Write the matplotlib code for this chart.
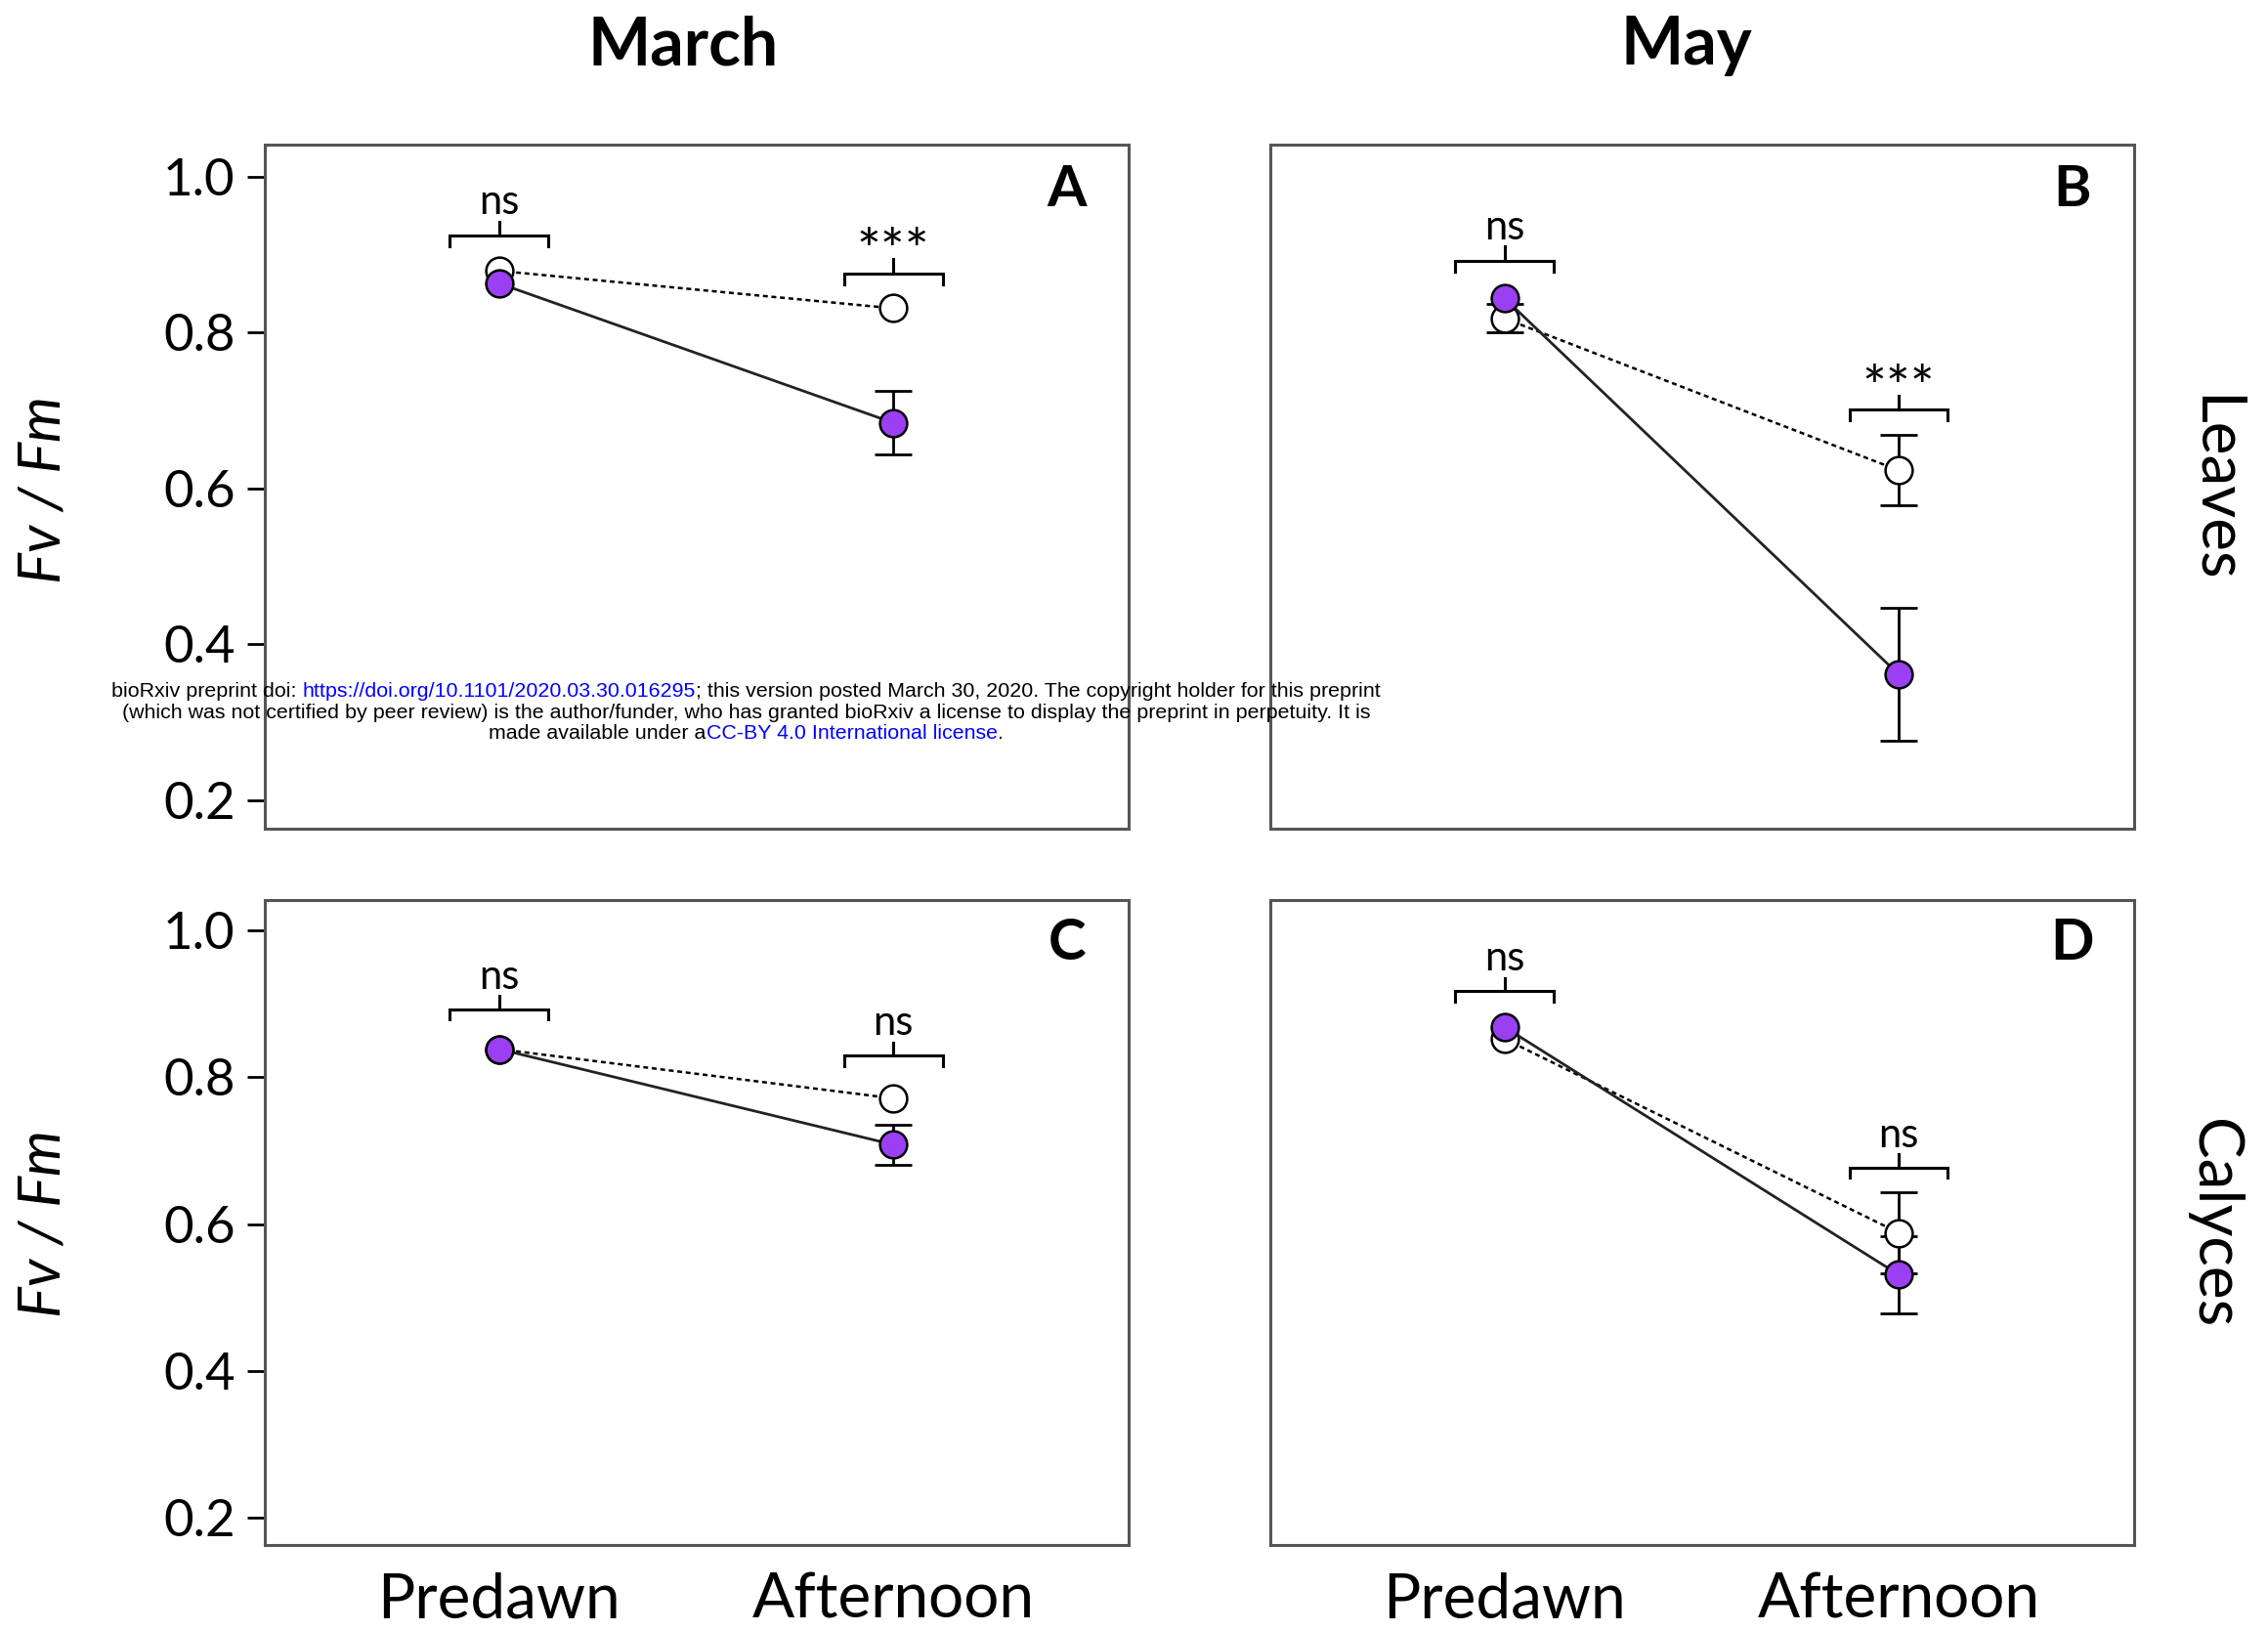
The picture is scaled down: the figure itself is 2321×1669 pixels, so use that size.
import matplotlib
matplotlib.use("Agg")
import matplotlib.pyplot as plt

# Fv/Fm, predawn vs afternoon, control (open) and treated (purple)
times = ["Predawn", "Afternoon"]
panels = ["A", "B", "C", "D"]

open_mean = {"A": [0.879, 0.831], "B": [0.818, 0.623], "C": [0.838, 0.771], "D": [0.852, 0.588]}
open_err = {"A": [0.0, 0.0], "B": [0.018, 0.045], "C": [0.0, 0.0], "D": [0.0, 0.055]}
purple_mean = {"A": [0.863, 0.684], "B": [0.844, 0.361], "C": [0.838, 0.708], "D": [0.868, 0.531]}
purple_err = {"A": [0.0, 0.041], "B": [0.0, 0.085], "C": [0.0, 0.027], "D": [0.0, 0.053]}

# significance brackets: (bracket height, label) for predawn / afternoon
brackets = {
    "A": [(0.924, "ns"), (0.876, "***")],
    "B": [(0.892, "ns"), (0.701, "***")],
    "C": [(0.892, "ns"), (0.829, "ns")],
    "D": [(0.917, "ns"), (0.677, "ns")],
}

months = ["March", "May"]
tissues = ["Leaves", "Calyces"]
yticks = [0.2, 0.4, 0.6, 0.8, 1.0]

purple = "#9b3ff2"
FONT = ["Lato", "DejaVu Sans"]
plt.rcParams["font.family"] = FONT

fig = plt.figure(figsize=(23.21, 16.69), dpi=100)

boxes = {
    "A": [0.1168, 0.4919, 0.381, 0.4194],
    "B": [0.5601, 0.4919, 0.381, 0.4194],
    "C": [0.1168, 0.0527, 0.381, 0.3955],
    "D": [0.5601, 0.0527, 0.381, 0.3955],
}

x = [0, 1]
for p in panels:
    ax = fig.add_axes(boxes[p])
    # error bars first so the markers cover them
    for m, e in ((open_mean[p], open_err[p]), (purple_mean[p], purple_err[p])):
        xs = [xi for xi, ei in zip(x, e) if ei > 0]
        ms_ = [mi for mi, ei in zip(m, e) if ei > 0]
        es = [ei for ei in e if ei > 0]
        if xs:
            ax.errorbar(xs, ms_, yerr=es, fmt="none", ecolor="black", elinewidth=2,
                        capsize=14, capthick=2, zorder=2)
    ax.plot(x, open_mean[p], color="black", ls=(0, (2, 1.5)), lw=1.8,
            marker="o", ms=20, mfc="white", mec="black", mew=1.8, zorder=3)
    ax.plot(x, purple_mean[p], color="#222222", ls="-", lw=2,
            marker="o", ms=20, mfc=purple, mec="black", mew=1.8, zorder=4)

    for xi, (yb, lab) in zip(x, brackets[p]):
        hw = 0.125
        ax.plot([xi - hw, xi - hw, xi + hw, xi + hw], [yb - 0.014, yb, yb, yb - 0.014],
                color="black", lw=2.2, solid_joinstyle="miter")
        ax.plot([xi, xi], [yb, yb + 0.018], color="black", lw=2.2)
        if lab == "ns":
            ax.text(xi, yb + 0.028, lab, ha="center", va="baseline", fontsize=30)
        else:
            ax.text(xi, yb + 0.025, lab, ha="center", va="center", fontsize=42)

    ax.text(0.928, 0.933, p, transform=ax.transAxes, ha="center", va="center",
            fontsize=42, fontweight="bold")

    ax.set_xlim(-0.594, 1.598)
    ax.set_ylim(0.163, 1.041)
    for s in ax.spines.values():
        s.set_color("#555555")
        s.set_linewidth(2.2)

    if p in ("A", "C"):
        ax.set_yticks(yticks)
        ax.set_yticklabels([f"{v:.1f}" for v in yticks])
        ax.tick_params(axis="y", length=13, width=2, pad=9, labelsize=38, color="black")
    else:
        ax.set_yticks([])
    if p in ("C", "D"):
        ax.set_xticks(x)
        ax.set_xticklabels(times)
        ax.tick_params(axis="x", length=0, pad=20, labelsize=46)
    else:
        ax.set_xticks([])

fig.text(0.301, 0.972, months[0], ha="center", va="center", fontsize=49, fontweight="bold")
fig.text(0.7436, 0.972, months[1], ha="center", va="center", fontsize=49, fontweight="bold")
fig.text(0.976, 0.700, tissues[0], ha="center", va="center", rotation=-90, fontsize=46)
fig.text(0.976, 0.250, tissues[1], ha="center", va="center", rotation=-90, fontsize=46)
for yc in (0.700, 0.250):
    fig.text(0.019, yc, "Fv / Fm", ha="center", va="center", rotation=90,
             fontsize=43, fontstyle="italic")

# bioRxiv watermark, pieces coloured separately
blue = "#0000ff"
wm_lines = [
    [("bioRxiv preprint doi: ", "black"), ("https://doi.org/10.1101/2020.03.30.016295", blue),
     ("; this version posted March 30, 2020. The copyright holder for this preprint", "black")],
    [("(which was not certified by peer review) is the author/funder, who has granted bioRxiv "
      "a license to display the preprint in perpetuity. It is", "black")],
    [("made available under a", "black"), ("CC-BY 4.0 International license", blue), (".", "black")],
]
wm_y = [0.576, 0.5627, 0.5503]
wm_cx = 0.329
wm_size = 15.4
wm_font = ["Liberation Sans", "DejaVu Sans"]

renderer = fig.canvas.get_renderer()
W = fig.bbox.width


def width_px(s):
    t = fig.text(0, 0, s, fontsize=wm_size, family=wm_font)
    w = t.get_window_extent(renderer).width
    t.remove()
    return w


for parts, yy in zip(wm_lines, wm_y):
    full = "".join(s for s, _ in parts)
    x0 = wm_cx - width_px(full) / W / 2
    prefix = ""
    for s, c in parts:
        first = s[0]
        off = width_px(prefix + first) - width_px(first) if prefix else 0
        fig.text(x0 + off / W, yy, s, color=c, fontsize=wm_size, family=wm_font,
                 ha="left", va="center")
        prefix += s

fig.savefig("out.png", dpi=100)
